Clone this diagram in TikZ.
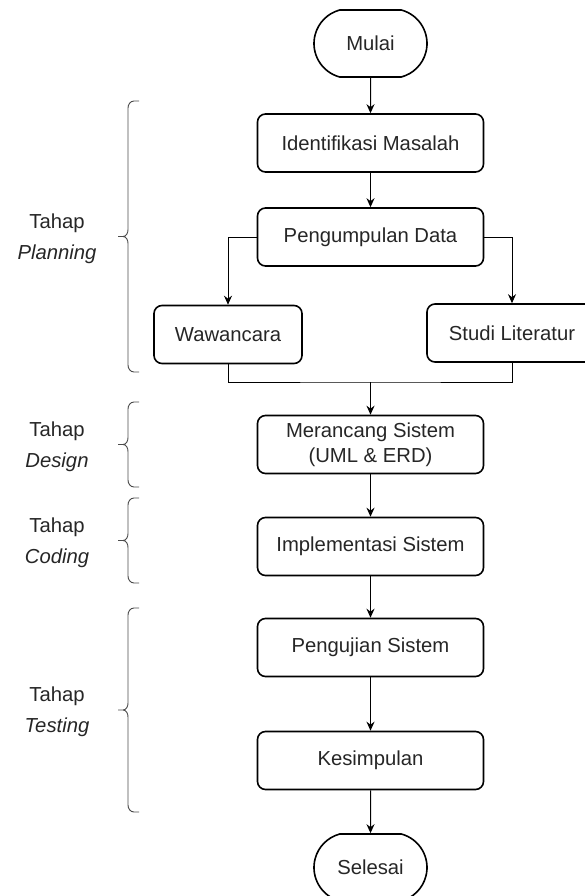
\documentclass[tikz,border=0pt]{standalone}
\usepackage{fontspec}
\setmainfont{Liberation Sans}
\usetikzlibrary{shapes.misc, arrows.meta}
\definecolor{bracegray}{rgb}{0.3, 0.3, 0.3}
\definecolor{textgray}{rgb}{0.15, 0.15, 0.15}

\begin{document}
\begin{tikzpicture}[x=0.75pt, y=-0.75pt,
		box/.style={draw, line width=1.2pt, rounded corners=6pt, minimum width=169.5pt, minimum height=43.5pt, inner sep=0pt, align=center, text=textgray, font=\fontsize{15.2}{18.4}\selectfont},
		terminal/.style={draw, line width=1.2pt, rounded rectangle, rounded rectangle arc length=150, minimum width=84.75pt, minimum height=50.25pt, inner sep=0pt, text=textgray, font=\fontsize{15.2}{18.4}\selectfont},
		arr/.style={-{Stealth[length=6.75pt, width=6pt]}, line width=0.75pt},
		brc/.style={draw=bracegray, line width=0.7pt},
		phase/.style={align=center, text=textgray, font=\fontsize{15.2}{23}\selectfont}]
			\useasboundingbox (0,0) rectangle (585,896);
			\node[terminal] (mulai) at (370.5,43.5) {Mulai};
			\node[box] (identifikasi) at (370.5,143) {Identifikasi Masalah};
			\node[box] (pengumpulan) at (370.5,237) {Pengumpulan Data};
			\node[box, minimum width=111pt] (wawancara) at (228,334.5) {Wawancara};
			\node[box, minimum width=127.5pt] (studi) at (512,333) {Studi Literatur};
			\coordinate (gabung) at (370.5,382);
			\node[box] (merancang) at (370.5,444.5) {Merancang Sistem\\(UML \& ERD)};
			\node[box] (implementasi) at (370.5,546.5) {Implementasi Sistem};
			\node[box] (pengujian) at (370.5,647.5) {Pengujian Sistem};
			\node[box] (kesimpulan) at (370.5,760.5) {Kesimpulan};
			\node[terminal] (selesai) at (370.5,867.5) {Selesai};
			\draw[arr] (mulai) -- (identifikasi);
			\draw[arr] (identifikasi) -- (pengumpulan);
			\draw[arr] (pengumpulan.west) -| (wawancara);
			\draw[arr] (pengumpulan.east) -| (studi);
			\draw[line width=0.75pt] (wawancara.south) |- (gabung) -| (studi.south);
			\draw[arr] (gabung) -- (merancang);
			\draw[arr] (merancang) -- (implementasi);
			\draw[arr] (implementasi) -- (pengujian);
			\draw[arr] (pengujian) -- (kesimpulan);
			\draw[arr] (kesimpulan) -- (selesai);
			\foreach \ya/\yb/\lbl/\tahap in {101/372/planning/Planning, 402/487/design/Design, 498/583/coding/Coding, 608/812/testing/Testing} {
				\pgfmathsetmacro\ym{(\ya+\yb)/2}
				\draw[brc] (139,\ya) -- (134,\ya) to[out=180, in=90] (128,\ya+7) -- (128,\ym-7) to[out=-90, in=0] (123,\ym) -- (118,\ym) -- (123,\ym) to[out=0, in=90] (128,\ym+7) -- (128,\yb-7) to[out=-90, in=180] (134,\yb) -- (139,\yb);
				\node[phase] (\lbl) at (57,\ym+2) {Tahap\\\textit{\tahap}};
			}
		\end{tikzpicture}
\end{document}
